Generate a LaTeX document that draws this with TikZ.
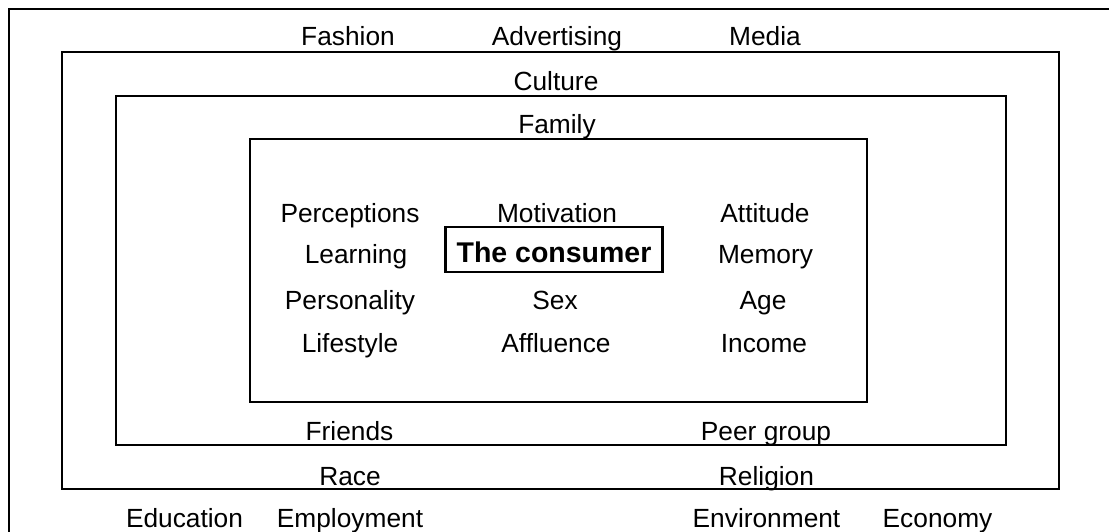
\documentclass[tikz,border=0pt]{standalone}
\usepackage{fontspec}
\setmainfont{Liberation Sans}

\begin{document}
\begin{tikzpicture}[x=0.5pt, y=0.5pt,
          ring/.style={draw, line width=1.1pt},
          word/.style={anchor=base, inner sep=0pt, font=\fontsize{13.15pt}{16pt}\selectfont},
          core/.style={draw, line width=1.1pt, inner sep=0pt, minimum width=108.5pt, minimum height=22.5pt, text height=13.5pt, text depth=0pt, font=\fontsize{14.25pt}{17pt}\selectfont\bfseries}]
        \useasboundingbox (0,0) rectangle (1109,531);
        \clip (0,0) rectangle (1109,531);
        % nested rings, outermost first
        \draw[ring] (9,-20) rectangle (1130,522);
        \draw[ring] (62,42) rectangle (1059,479);
        \draw[ring] (116,86) rectangle (1006,435);
        \draw[ring] (250,129) rectangle (867,392);
        % outside the rings
        \node[word] (fashion) at (348,485) {Fashion};
        \node[word] (advert) at (557,485) {Advertising};
        \node[word] (media) at (765,485) {Media};
        \node[word] (educ) at (184.5,3.5) {Education};
        \node[word] (employ) at (350,3.5) {Employment};
        \node[word] (environ) at (766.5,3.5) {Environment};
        \node[word] (economy) at (937.5,3.5) {Economy};
        % culture ring
        \node[word] (culture) at (556,440.5) {Culture};
        \node[word] (race) at (350,46) {Race};
        \node[word] (religion) at (766.5,46) {Religion};
        % family ring
        \node[word] (family) at (557,397) {Family};
        \node[word] (friends) at (349.5,90.5) {Friends};
        \node[word] (peers) at (766,90.5) {Peer group};
        % the person in the middle
        \node[core] (consumer) at (554,281.5) {The consumer};
        \node[word] (percep) at (350,308.5) {Perceptions};
        \node[word] (motiv) at (557,308.5) {Motivation};
        \node[word] (attit) at (765,308.5) {Attitude};
        \node[word] (learn) at (356,267) {Learning};
        \node[word] (memory) at (765.5,267) {Memory};
        \node[word] (person) at (350,221.5) {Personality};
        \node[word] (sex) at (555,221.5) {Sex};
        \node[word] (age) at (763,221.5) {Age};
        \node[word] (life) at (350,178) {Lifestyle};
        \node[word] (affl) at (556,178) {Affluence};
        \node[word] (income) at (764,178) {Income};
      \end{tikzpicture}
\end{document}
